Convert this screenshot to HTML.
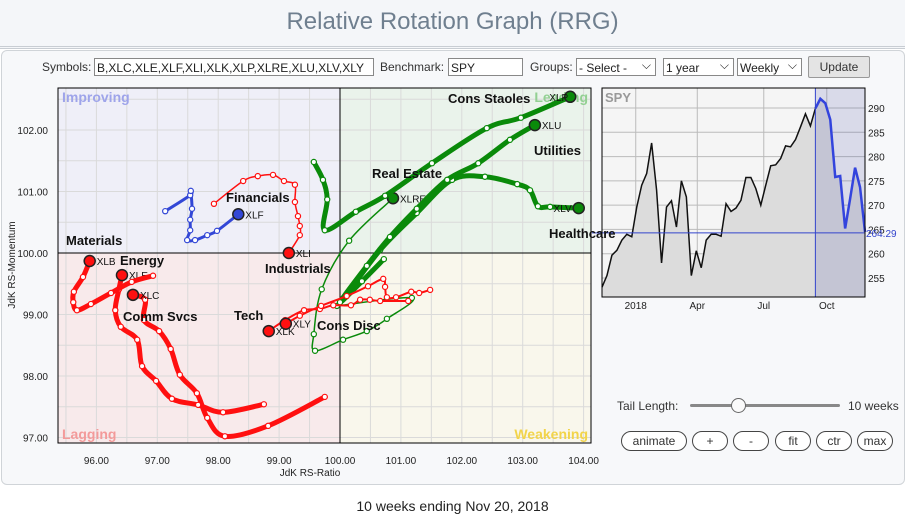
<!DOCTYPE html>
<html><head><meta charset="utf-8">
<style>
body{margin:0;width:905px;height:516px;background:#fff;font-family:"Liberation Sans",sans-serif;overflow:hidden;position:relative}
.hdr{position:absolute;left:0;top:0;width:905px;height:46px;background:#f4f6f9;border-bottom:3px double #c8cdd3}
.title{position:absolute;left:0;top:8px;width:905px;text-align:center;font-size:24px;color:#6f7f8f}
.panel{position:absolute;left:1px;top:50px;width:902px;height:433px;background:#f7f8fa;border:1px solid #d0d4d8;border-radius:6px}
.lbl{position:absolute;font-size:12px;color:#333}
.inp{position:absolute;height:18px;border:1px solid #888;background:#fff;font-size:12px;line-height:18px;padding-left:2px;box-sizing:border-box;color:#222;white-space:nowrap;overflow:hidden}
.sel::after{content:"⌵";position:absolute;right:4px;top:-3px;font-size:12px}
.btn{position:absolute;height:20px;border:1px solid #444;border-radius:10px;background:#fff;font-size:12px;text-align:center;line-height:19px;color:#333;box-sizing:border-box}
.foot{position:absolute;left:0;top:498px;width:905px;text-align:center;font-size:14px;color:#222}
</style></head><body>
<div class="hdr"><div class="title">Relative Rotation Graph (RRG)</div></div>
<div class="panel"></div>
<div class="lbl" style="left:42px;top:60px">Symbols:</div>
<div class="inp" style="left:94px;top:58px;width:280px">B,XLC,XLE,XLF,XLI,XLK,XLP,XLRE,XLU,XLV,XLY</div>
<div class="lbl" style="left:380px;top:60px">Benchmark:</div>
<div class="inp" style="left:448px;top:58px;width:75px">SPY</div>
<div class="lbl" style="left:530px;top:60px">Groups:</div>
<div class="inp sel" style="left:576px;top:58px;width:80px">- Select -</div>
<div class="inp sel" style="left:663px;top:58px;width:71px">1 year</div>
<div class="inp sel" style="left:737px;top:58px;width:65px">Weekly</div>
<div class="btn" style="left:808px;top:56px;width:62px;height:22px;border-radius:2px;background:#e4e4e4;border-color:#999;line-height:21px">Update</div>

<svg id="rrg" width="905" height="516" style="position:absolute;left:0;top:0"></svg>

<div class="lbl" style="left:617px;top:399px">Tail Length:</div>
<div style="position:absolute;left:690px;top:404px;width:150px;height:3px;background:#888;border-radius:2px"></div>
<div style="position:absolute;left:731px;top:398px;width:13px;height:13px;background:#fafafa;border:1px solid #666;border-radius:50%"></div>
<div class="lbl" style="left:848px;top:399px">10 weeks</div>
<div class="btn" style="left:621px;top:431px;width:66px">animate</div>
<div class="btn" style="left:692px;top:431px;width:36px">+</div>
<div class="btn" style="left:733px;top:431px;width:36px">-</div>
<div class="btn" style="left:775px;top:431px;width:36px">fit</div>
<div class="btn" style="left:816px;top:431px;width:36px">ctr</div>
<div class="btn" style="left:857px;top:431px;width:36px">max</div>
<div class="foot">10 weeks ending Nov 20, 2018</div>

<script>
const xTicks=[96,97,98,99,100,101,102,103,104];
const yTicks=[97,98,99,100,101,102];
const sectorNames=["XLP","XLU","XLV","XLRE","XLF","XLI","XLB","XLE","XLC","XLY","XLK"];
const xlpX=[99.57,99.72,99.79,99.75,100.26,100.74,101.51,102.41,102.97,103.78];
const xlpY=[101.48,101.19,100.87,100.37,100.67,100.93,101.46,102.03,102.20,102.54];
const xluX=[100.72,100.36,100.00,100.44,100.82,101.26,101.76,102.27,102.79,103.20];
const xluY=[99.90,99.54,99.20,99.79,100.26,100.72,101.19,101.46,101.84,102.08];
const xlvX=[100.08,100.66,101.26,101.84,102.38,102.91,103.12,103.25,103.45,103.92];
const xlvY=[99.28,100.05,100.65,101.19,101.24,101.12,101.02,100.76,100.75,100.73];
const xlreX=[99.95,101.18,100.77,100.44,100.05,99.59,99.57,99.70,100.15,100.87];
const xlreY=[99.14,99.27,98.93,98.73,98.59,98.41,98.68,99.41,100.20,100.89];
const xlfX=[97.13,97.54,97.55,97.57,97.54,97.54,97.49,97.62,97.82,97.98,98.33];
const xlfY=[100.68,100.94,101.01,100.72,100.54,100.37,100.21,100.21,100.29,100.36,100.63];
const xliX=[97.93,98.41,98.65,98.90,99.08,99.26,99.26,99.31,99.34,99.34,99.16];
const xliY=[100.80,101.17,101.25,101.27,101.17,101.11,100.83,100.60,100.44,100.29,100.00];
const xlbX=[96.93,96.58,96.24,95.91,95.68,95.62,95.63,95.78,95.89];
const xlbY=[99.63,99.53,99.35,99.17,99.07,99.20,99.37,99.61,99.87];
const xleX=[98.75,98.08,97.67,97.24,96.98,96.75,96.67,96.40,96.31,96.37,96.42];
const xleY=[97.54,97.41,97.53,97.63,97.92,98.16,98.59,98.80,99.07,99.41,99.64];
const xlcX=[99.75,98.82,98.11,97.82,97.65,97.37,97.22,97.03,96.78,96.80,96.60];
const xlcY=[97.66,97.19,97.02,97.32,97.72,98.02,98.44,98.73,98.91,99.24,99.32];
const xlyX=[101.48,101.30,101.17,100.92,100.77,100.74,100.71,100.46,100.11,99.69,99.34,99.11];
const xlyY=[99.40,99.35,99.37,99.28,99.28,99.45,99.58,99.46,99.30,99.14,98.98,98.85];
const xlkX=[101.12,100.66,100.49,100.33,100.18,99.89,99.67,99.41,99.10,98.83];
const xlkY=[99.22,99.22,99.24,99.24,99.15,99.15,99.09,99.07,98.91,98.73];
const spyPrices=[253.1,255.5,259.7,260.7,262.8,264.0,263.5,269.6,274.1,276.5,282.8,273.1,258.1,269.6,270.9,265.5,275.0,271.7,255.5,260.6,257.1,262.8,264.0,264.0,263.6,270.3,268.7,269.4,271.0,275.7,275.7,273.4,270.0,274.1,278.1,278.3,279.6,282.2,282.0,283.5,286.1,288.8,286.3,289.9,291.9,291.0,287.6,275.8,276.0,265.2,271.3,277.7,273.7,264.5];
const spyTicks=[255,260,265,270,275,280,285,290];
const spyMonths=["2018","Apr","Jul","Oct"];
const spyMonthIdx=[6.8,19.2,32.6,45.3];
const spyLast="264.29";

const NS="http://www.w3.org/2000/svg";
const svg=document.getElementById('rrg');
function mk(tag,attrs,parent){const e=document.createElementNS(NS,tag);for(const k in attrs)e.setAttribute(k,attrs[k]);(parent||svg).appendChild(e);return e;}
const L=58,R=591,T=88,B=443;
const sx=v=>340+(v-100)*60.9;
const sy=v=>253-(v-100)*61.5;

let q;
q=mk('rect',{x:L,y:T,width:sx(100)-L,height:sy(100)-T,fill:'#efeff8'});


q=mk('rect',{x:sx(100),y:T,width:R-sx(100),height:sy(100)-T,fill:'#eaf3eb'});


q=mk('rect',{x:L,y:sy(100),width:sx(100)-L,height:B-sy(100),fill:'#f8eaeb'});


q=mk('rect',{x:sx(100),y:sy(100),width:R-sx(100),height:B-sy(100),fill:'#f9f7ec'});


const hx=[95.5,96.5,97.5,98.5,99.5,100.5,101.5,102.5,103.5];
hx.concat(xTicks).forEach(v=>{const g=mk('line',{x1:sx(v),x2:sx(v),y1:T,y2:B,stroke:'#dadada','stroke-width':1});

});
[97.5,98.5,99.5,100.5,101.5,102.5].concat(yTicks).forEach(v=>{const g=mk('line',{x1:L,x2:R,y1:sy(v),y2:sy(v),stroke:'#dadada','stroke-width':1});

});
mk('line',{x1:sx(100),x2:sx(100),y1:T,y2:B,stroke:'#000','stroke-width':1});
mk('line',{x1:L,x2:R,y1:sy(100),y2:sy(100),stroke:'#000','stroke-width':1});
const fr=mk('rect',{x:L,y:T,width:R-L,height:B-T,fill:'none',stroke:'#000','stroke-width':1});


xTicks.forEach(v=>{const t=mk('text',{x:sx(v),y:464,'font-size':10,'text-anchor':'middle',fill:'#222'});t.textContent=v.toFixed(2);

});
yTicks.forEach(v=>{const t=mk('text',{x:48,y:sy(v)+4,'font-size':10,'text-anchor':'end',fill:'#222'});t.textContent=v.toFixed(2);

});
let at=mk('text',{x:sx(100)-30,y:476,'font-size':10,'text-anchor':'middle',fill:'#222'});at.textContent='JdK RS-Ratio';


at=mk('text',{x:15,y:265,'font-size':10,'text-anchor':'middle',fill:'#222',transform:'rotate(-90 15 265)'});at.textContent='JdK RS-Momentum';


function qlab(txt,x,y,c,anchor,name){const t=mk('text',{x:x,y:y,'font-size':14,'font-weight':'bold',fill:c,'text-anchor':anchor});t.textContent=txt;

}
qlab('Improving',62,102,'#9ea4ea','start','improving-label');
qlab('Leading',588,102,'#92d092','end','leading-label');
qlab('Lagging',62,439,'#f39a9a','start','lagging-label');
qlab('Weakening',588,439,'#f2d44a','end','weakening-label');

function series(name,xs,ys,color,w,labDx,anchor){
  const g=mk('g',{});
  
  
  const pts=xs.map((v,i)=>[sx(v),sy(ys[i])]);
  let d='M'+pts[0][0]+','+pts[0][1];
  for(let i=1;i<pts.length;i++){
    const p0=pts[i-2]||pts[i-1],p1=pts[i-1],p2=pts[i],p3=pts[i+1]||p2;
    d+=' C'+(p1[0]+(p2[0]-p0[0])/6)+','+(p1[1]+(p2[1]-p0[1])/6)+' '+(p2[0]-(p3[0]-p1[0])/6)+','+(p2[1]-(p3[1]-p1[1])/6)+' '+p2[0]+','+p2[1];
  }
  mk('path',{d:d,fill:'none',stroke:color,'stroke-width':w,'stroke-linecap':'round','stroke-linejoin':'round'},g);
  pts.slice(0,-1).forEach(p=>{const c=mk('circle',{cx:p[0],cy:p[1],r:2.6,fill:'#fff',stroke:color,'stroke-width':1.2},g);
    
    });
  const h=pts[pts.length-1];
  const hc=mk('circle',{cx:h[0],cy:h[1],r:5.5,fill:color,stroke:'#222','stroke-width':1.5},g);
  
  
  const t=mk('text',{x:h[0]+labDx,y:h[1]+4,'font-size':10,fill:'#111','text-anchor':anchor},g);t.textContent=name;
  
  
}
const G='#0a8a0a',RD='#ff1010',BL='#3347d6';
series('XLRE',xlreX,xlreY,G,1.5,7,'start');
series('XLV',xlvX,xlvY,G,5,-7,'end');
series('XLU',xluX,xluY,G,5,7,'start');
series('XLP',xlpX,xlpY,G,5,-2,'end');
series('XLF',xlfX,xlfY,BL,3,7,'start');
series('XLI',xliX,xliY,RD,1.5,7,'start');
series('XLC',xlcX,xlcY,RD,5,7,'start');
series('XLE',xleX,xleY,RD,5,7,'start');
series('XLB',xlbX,xlbY,RD,5,7,'start');
series('XLK',xlkX,xlkY,RD,2,7,'start');
series('XLY',xlyX,xlyY,RD,2,7,'start');

// SPY inset
const IL=602,IR=865,IT=88,IB=297;
const ix=i=>IL+i*(IR-IL)/(spyPrices.length-1);
const iy=p=>108+(290-p)*4.857;
const ib=mk('rect',{x:IL,y:IT,width:IR-IL,height:IB-IT,fill:'#f5f5f5',stroke:'#000','stroke-width':1});


spyTicks.forEach(v=>{const l=mk('line',{x1:IL,x2:IR,y1:iy(v),y2:iy(v),stroke:'#bbb','stroke-width':1});


const t=mk('text',{x:868,y:iy(v)+4,'font-size':10,fill:'#222'});t.textContent=v;

});
spyMonthIdx.forEach((m,i)=>{const x=ix(m);mk('line',{x1:x,x2:x,y1:IT,y2:IB,stroke:'#bbb','stroke-width':1});
const t=mk('text',{x:x,y:309,'font-size':10,fill:'#222','text-anchor':'middle'});t.textContent=spyMonths[i];

});
const split=spyPrices.length-11;
let area='M'+IL+','+IB;spyPrices.forEach((p,i)=>area+=' L'+ix(i)+','+iy(p));area+=' L'+IR+','+IB+'Z';
mk('path',{d:area,fill:'#dcdcdc'});
mk('rect',{x:ix(split),y:IT,width:IR-ix(split),height:IB-IT,fill:'rgba(60,70,170,0.15)'});
let l1='';for(let i=0;i<=split;i++)l1+=(i?' L':'M')+ix(i)+','+iy(spyPrices[i]);
const bl=mk('path',{d:l1,fill:'none',stroke:'#111','stroke-width':1.5});


let l2='';for(let i=split;i<spyPrices.length;i++)l2+=(i>split?' L':'M')+ix(i)+','+iy(spyPrices[i]);
const bb=mk('path',{d:l2,fill:'none',stroke:'#3344dd','stroke-width':2.5});


mk('line',{x1:ix(split),x2:ix(split),y1:IT,y2:IB,stroke:'#3344cc','stroke-width':1});
mk('line',{x1:592,x2:IR,y1:iy(264.29),y2:iy(264.29),stroke:'#3344cc','stroke-width':1});
mk('rect',{x:IL,y:IT,width:IR-IL,height:IB-IT,fill:'none',stroke:'#000','stroke-width':1});
let st=mk('text',{x:605,y:102,'font-size':13,'font-weight':'bold',fill:'#999'});st.textContent='SPY';


st=mk('text',{x:866,y:iy(264.29)+4,'font-size':10,fill:'#3344cc'});st.textContent=spyLast;



const sectorLabels=[["Cons Staoles",448,103],["Utilities",534,155],["Real Estate",372,178],["Healthcare",549,238],["Financials",226,202],["Materials",66,245],["Energy",120,265],["Industrials",265,273],["Comm Svcs",123,321],["Tech",234,320],["Cons Disc",317,330]];
sectorLabels.forEach(s=>{const t=mk('text',{x:s[1],y:s[2],'font-size':13,'font-weight':'bold',fill:'#111'});t.textContent=s[0];

});
</script>
</body></html>
